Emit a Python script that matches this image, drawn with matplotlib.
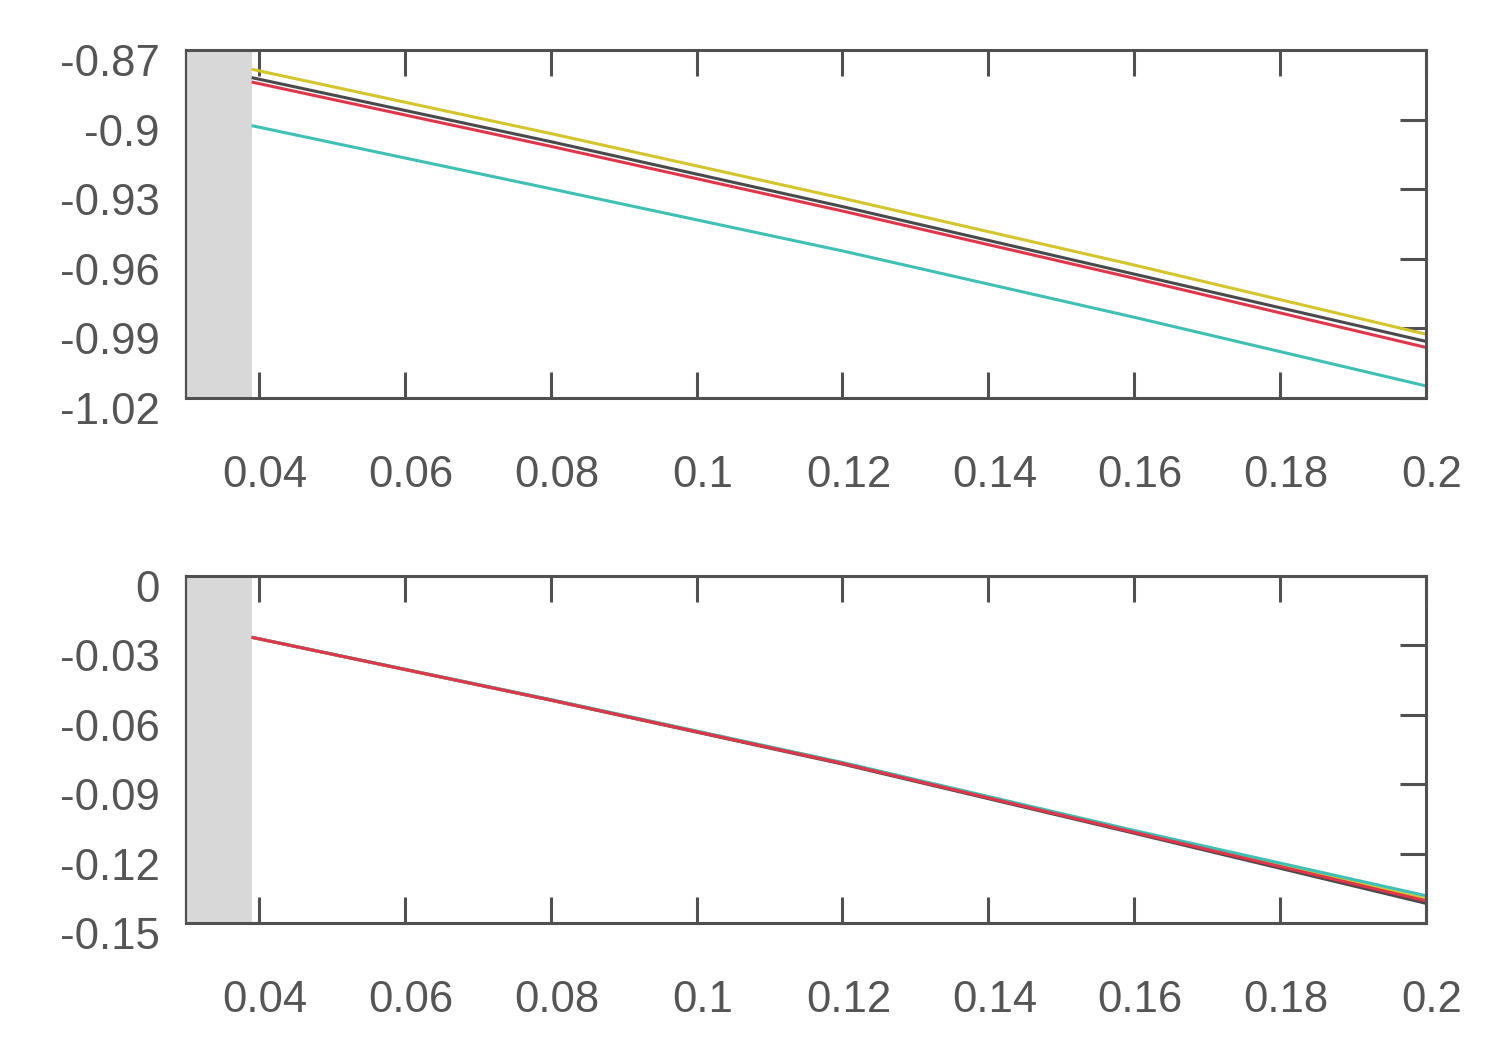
import numpy as np
import matplotlib.pyplot as plt
import matplotlib.transforms as mtransforms

x = [0.039, 0.08, 0.12, 0.16, 0.2]

# top panel
top_yellow = [-0.8783, -0.9060, -0.9339, -0.9627, -0.9925]
top_dark = [-0.8819, -0.9095, -0.9375, -0.9666, -0.9956]
top_red = [-0.8838, -0.9115, -0.9394, -0.9684, -0.9982]
top_teal = [-0.9026, -0.9298, -0.9566, -0.9852, -1.0148]

# bottom panel
bot_yellow = [-0.0265, -0.0535, -0.0808, -0.1105, -0.1395]
bot_dark = [-0.0265, -0.0537, -0.0813, -0.1112, -0.1415]
bot_red = [-0.0265, -0.0536, -0.0810, -0.1108, -0.1404]
bot_teal = [-0.0265, -0.0534, -0.0806, -0.1100, -0.1382]

xticks = [0.04, 0.06, 0.08, 0.1, 0.12, 0.14, 0.16, 0.18, 0.2]
xticklabels = ["0.04", "0.06", "0.08", "0.1", "0.12", "0.14", "0.16", "0.18", "0.2"]
top_yticks = [-1.02, -0.99, -0.96, -0.93, -0.9, -0.87]
top_ylabels = ["-1.02", "-0.99", "-0.96", "-0.93", "-0.9", "-0.87"]
bot_yticks = [-0.15, -0.12, -0.09, -0.06, -0.03, 0]
bot_ylabels = ["-0.15", "-0.12", "-0.09", "-0.06", "-0.03", "0"]

shade_end = 0.039

YELLOW = "#d4c52b"
DARK = "#4a4a4a"
RED = "#e0364b"
TEAL = "#3fc0b4"
AXC = "#505050"
TXT = "#555555"

plt.rcParams['font.family'] = ['Liberation Sans', 'DejaVu Sans']

fig = plt.figure(figsize=(15, 10.5), dpi=100)
W, H = 1500, 1050
ax1 = fig.add_axes([186 / W, 1 - 398 / H, 1240 / W, 348 / H])
ax2 = fig.add_axes([186 / W, 1 - 923 / H, 1240 / W, 347 / H])

panels = [
    (ax1, [top_dark, top_yellow, top_teal, top_red], top_yticks, top_ylabels, (-1.02, -0.87)),
    (ax2, [bot_dark, bot_yellow, bot_teal, bot_red], bot_yticks, bot_ylabels, (-0.15, 0)),
]

for ax, series, yt, yl, ylim in panels:
    ax.axvspan(0.03, shade_end, color="#d8d8d8", lw=0, zorder=0)
    for ys, c in zip(series, [DARK, YELLOW, TEAL, RED]):
        ax.plot(x, ys, color=c, lw=2.2, solid_capstyle='butt')
    ax.set_xlim(0.03, 0.2)
    ax.set_ylim(*ylim)
    ax.set_xticks(xticks)
    ax.set_xticklabels(xticklabels)
    ax.set_yticks(yt)
    ax.set_yticklabels(yl)
    for s in ax.spines.values():
        s.set_color(AXC)
        s.set_linewidth(2.2)
    ax.spines['left'].set_linewidth(1.6)
    ax.tick_params(axis='x', direction='in', top=True, bottom=True, length=19,
                   width=2.2, color=AXC, labelsize=31.5, labelcolor=TXT, pad=41)
    ax.tick_params(axis='y', direction='in', left=False, right=True, labelleft=True,
                   labelright=False, length=19, width=2.2, color=AXC,
                   labelsize=31.5, labelcolor=TXT, pad=19)
    dx = mtransforms.ScaledTranslation(6 / 100, 0, fig.dpi_scale_trans)
    for lab in ax.get_xticklabels():
        lab.set_transform(lab.get_transform() + dx)
    dy = mtransforms.ScaledTranslation(0, -10 / 100, fig.dpi_scale_trans)
    for lab in ax.get_yticklabels():
        lab.set_transform(lab.get_transform() + dy)

fig.savefig("out.png", dpi=100)
